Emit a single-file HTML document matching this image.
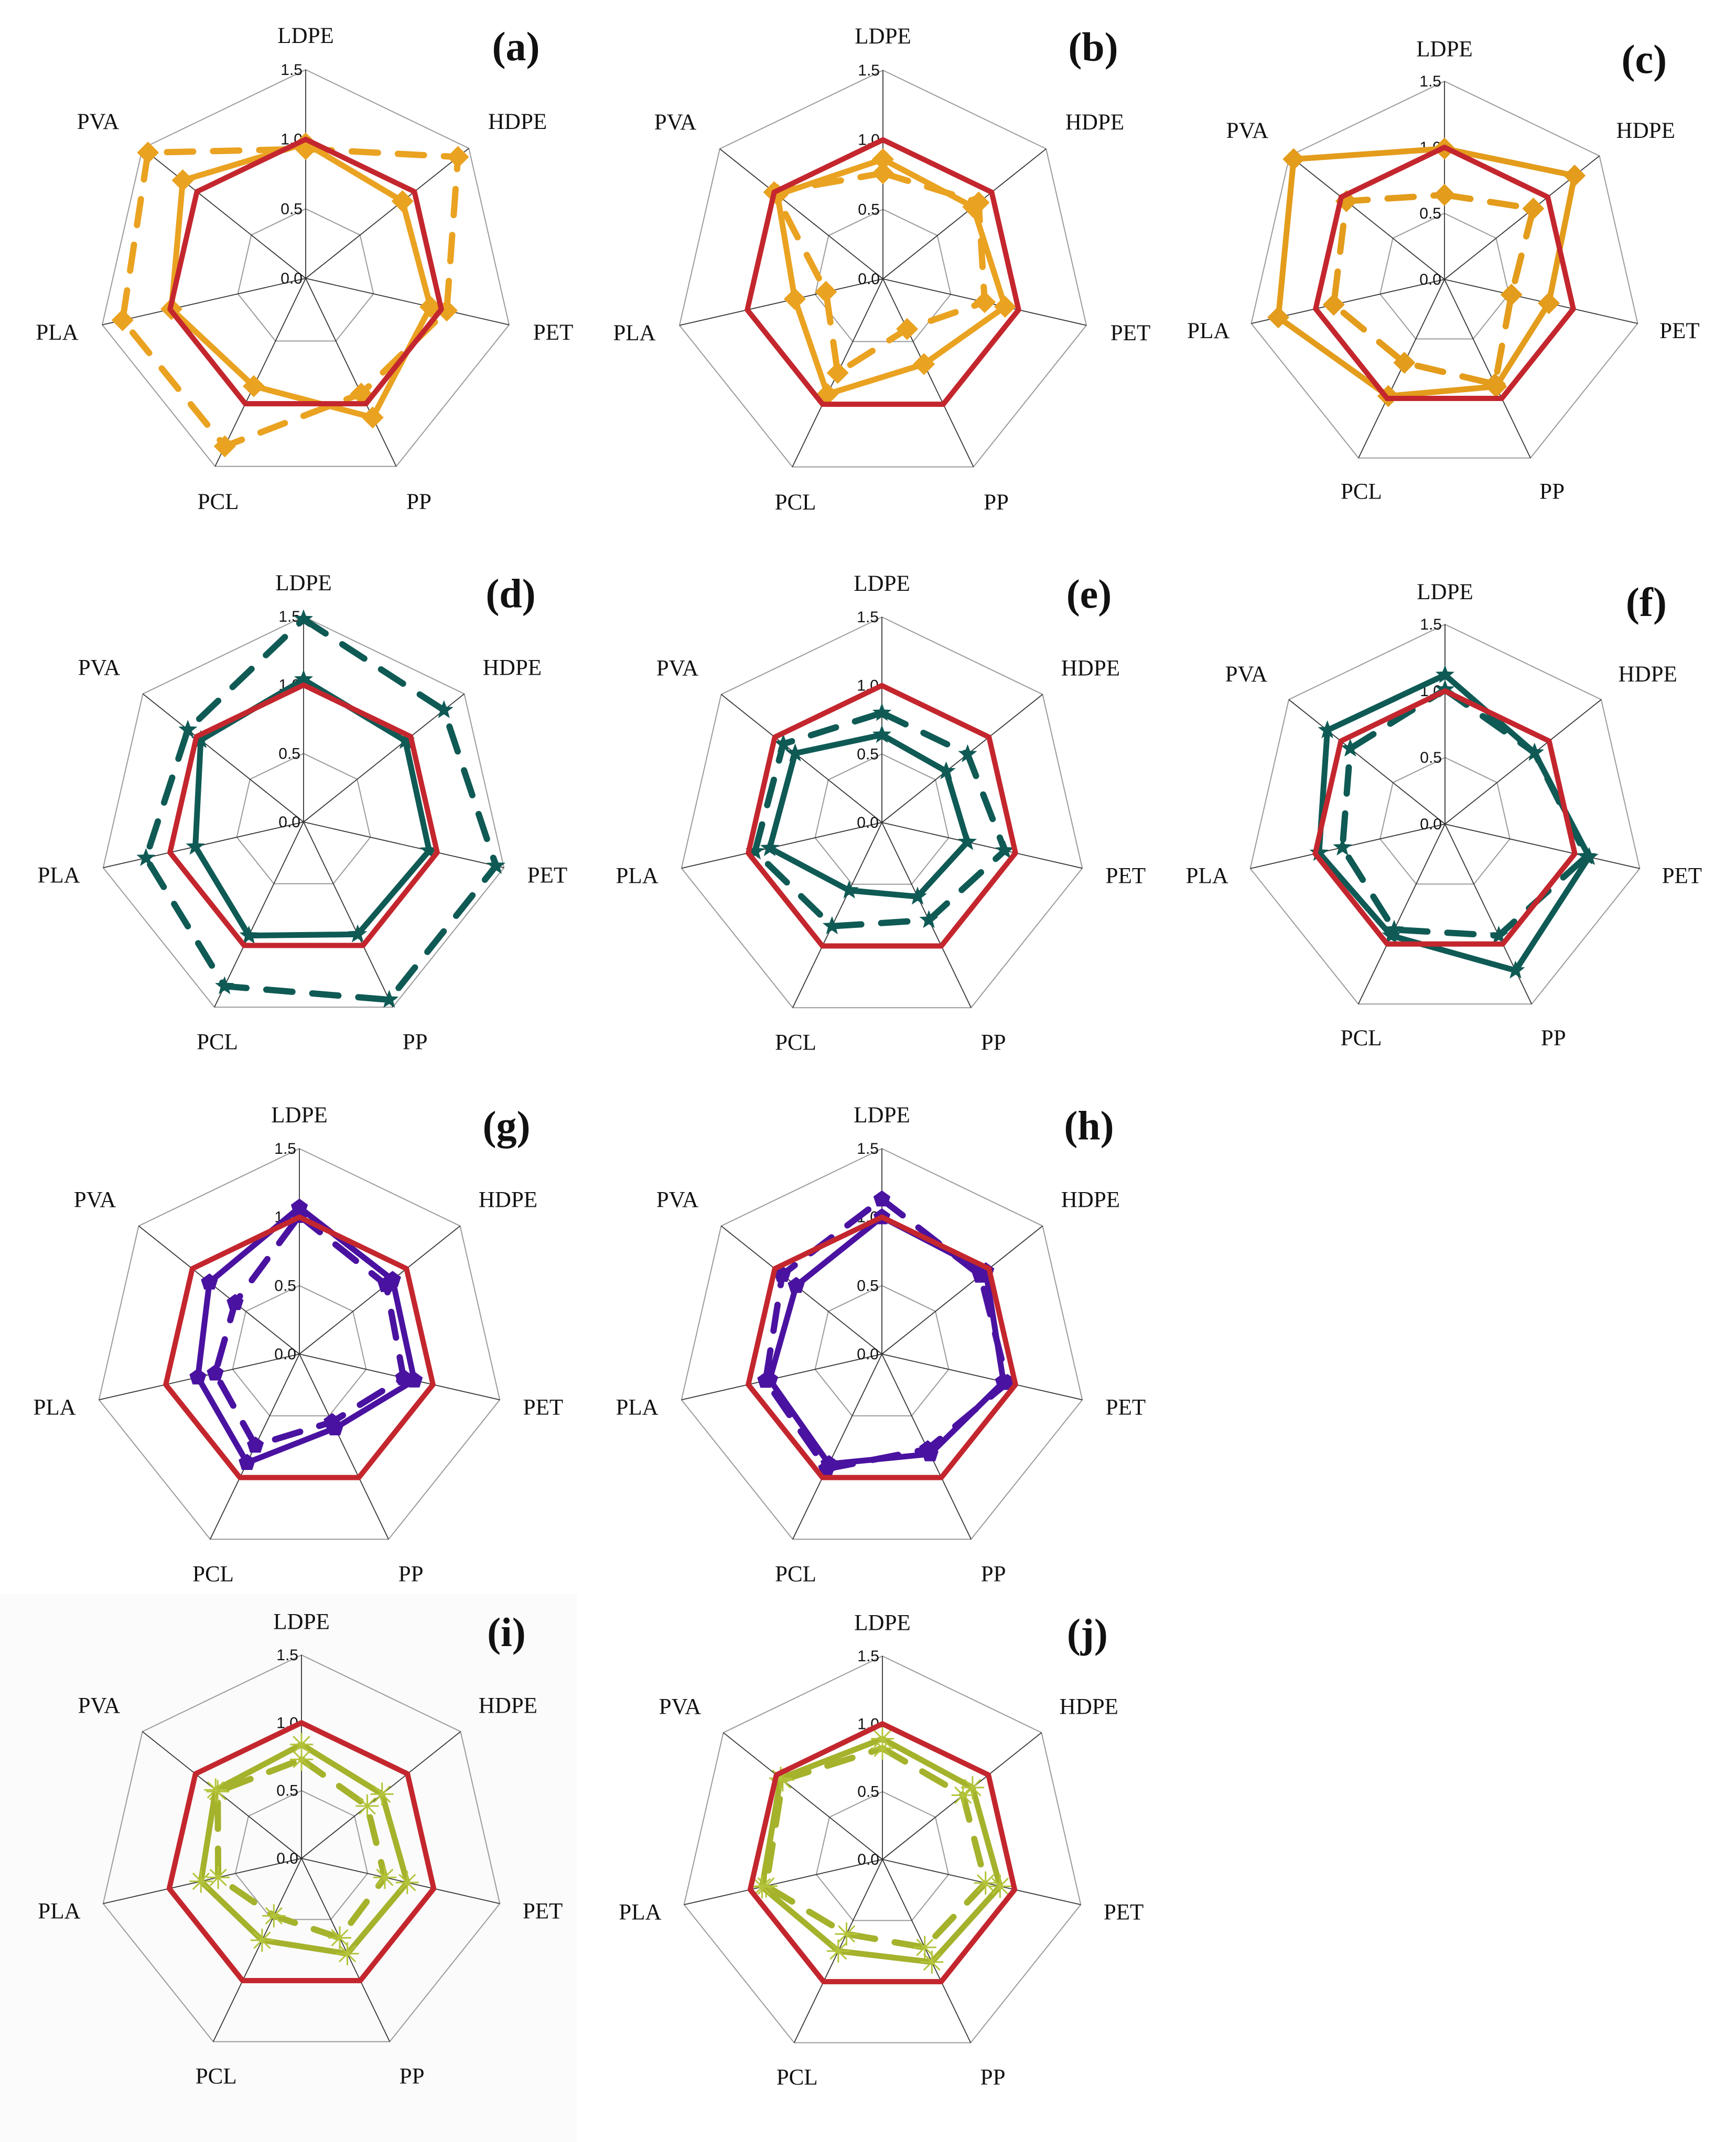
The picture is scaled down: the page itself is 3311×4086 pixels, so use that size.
<!DOCTYPE html>
<html><head><meta charset="utf-8"><style>
html,body{margin:0;padding:0;background:#fff;}
svg{display:block;}
</style></head><body>
<svg id="fig" width="3311" height="4086" viewBox="0 0 3311 4086" xmlns="http://www.w3.org/2000/svg">
<rect x="0" y="0" width="3311" height="4086" fill="#ffffff"/>
<rect x="0" y="3040" width="1100" height="1046" fill="#fbfbfb"/>
</svg>
<script>
const axes = ["LDPE","HDPE","PET","PP","PCL","PLA","PVA"];
const ticks = [0.0, 0.5, 1.0, 1.5];
const tickLabels = ["0.0","0.5","1.0","1.5"];
const reference = [1,1,1,1,1,1,1];
const aSolid  = [0.97,0.89,0.92,1.11,0.86,0.99,1.13];
const aDashed = [0.93,1.40,1.04,0.92,1.34,1.35,1.45];
const bSolid  = [0.86,0.83,0.90,0.68,0.92,0.65,0.97];
const bDashed = [0.76,0.88,0.75,0.40,0.75,0.42,1.00];
const cSolid  = [0.99,1.26,0.81,0.90,0.98,1.29,1.46];
const cDashed = [0.64,0.86,0.52,0.88,0.70,0.86,0.95];
const dSolid  = [1.04,0.95,0.94,0.91,0.92,0.81,0.96];
const dDashed = [1.48,1.31,1.44,1.44,1.33,1.18,1.08];
const eSolid  = [0.64,0.60,0.64,0.60,0.55,0.84,0.81];
const eDashed = [0.80,0.80,0.92,0.79,0.84,0.95,0.92];
const fSolid  = [1.12,0.86,1.11,1.22,0.93,0.97,1.13];
const fDashed = [1.01,0.86,1.09,0.93,0.88,0.79,0.91];
const gSolid  = [1.07,0.87,0.86,0.60,0.88,0.76,0.84];
const gDashed = [1.01,0.81,0.78,0.55,0.74,0.63,0.60];
const hSolid  = [1.00,0.97,0.91,0.81,0.89,0.84,0.80];
const hDashed = [1.13,0.92,0.94,0.77,0.93,0.87,0.93];
const iSolid  = [0.84,0.76,0.80,0.78,0.67,0.76,0.81];
const iDashed = [0.73,0.62,0.63,0.65,0.47,0.63,0.79];
const jSolid  = [0.89,0.85,0.89,0.84,0.75,0.91,0.96];
const jDashed = [0.82,0.76,0.78,0.72,0.61,0.88,0.94];

const panels = [
 {id:"a",cx:583,cy:531,R:398,color:"#eaa221",marker:"diamond",solid:aSolid,dashed:aDashed},
 {id:"b",cx:1684,cy:532,R:398,color:"#eaa221",marker:"diamond",solid:bSolid,dashed:bDashed},
 {id:"c",cx:2755,cy:533,R:378,color:"#e39c1b",marker:"diamond",solid:cSolid,dashed:cDashed},
 {id:"d",cx:579,cy:1568,R:392,color:"#0f5a55",marker:"star",solid:dSolid,dashed:dDashed},
 {id:"e",cx:1682,cy:1569,R:392,color:"#0f5a55",marker:"star",solid:eSolid,dashed:eDashed},
 {id:"f",cx:2756,cy:1572,R:381,color:"#0f5a55",marker:"star",solid:fSolid,dashed:fDashed},
 {id:"g",cx:571,cy:2583,R:392,color:"#4a12a0",marker:"pentagon",solid:gSolid,dashed:gDashed},
 {id:"h",cx:1682,cy:2583,R:392,color:"#4a12a0",marker:"pentagon",solid:hSolid,dashed:hDashed},
 {id:"i",cx:575,cy:3545,R:388,color:"#a5b22c",marker:"asterisk",solid:iSolid,dashed:iDashed},
 {id:"j",cx:1683,cy:3547,R:388,color:"#a5b22c",marker:"asterisk",solid:jSolid,dashed:jDashed}
];
const labelOff = [[0,-464],[404,-300],[472,102],[216,425],[-167,425],[-474,102],[-396,-300]];

const NS = "http://www.w3.org/2000/svg";
const svg = document.getElementById("fig");
function mk(tag, attrs, parent){
  const e = document.createElementNS(NS, tag);
  for (const k in attrs) e.setAttribute(k, attrs[k]);
  parent.appendChild(e);
  return e;
}
function angle(i){ return -Math.PI/2 + i*2*Math.PI/7; }
function pt(p, i, v){
  const r = v/1.5*p.R;
  return [p.cx + r*Math.cos(angle(i)), p.cy + r*Math.sin(angle(i))];
}
function markerShape(p, x, y, g){
  const c = p.color;
  let e;
  if (p.marker === "diamond"){
    const s = 21;
    e = mk("polygon", {points:`${x},${y-s} ${x+s},${y} ${x},${y+s} ${x-s},${y}`, fill:c}, g);
  } else if (p.marker === "star"){
    let pts = [];
    for (let k=0;k<10;k++){
      const r = k%2===0 ? 19 : 8;
      const a = -Math.PI/2 + k*Math.PI/5;
      pts.push((x+r*Math.cos(a)).toFixed(1)+","+(y+r*Math.sin(a)).toFixed(1));
    }
    e = mk("polygon", {points:pts.join(" "), fill:c}, g);
  } else if (p.marker === "pentagon"){
    let pts = [];
    for (let k=0;k<5;k++){
      const a = -Math.PI/2 + k*2*Math.PI/5;
      pts.push((x+17*Math.cos(a)).toFixed(1)+","+(y+17*Math.sin(a)).toFixed(1));
    }
    e = mk("polygon", {points:pts.join(" "), fill:c}, g);
  } else {
    let d = "";
    for (let k=0;k<4;k++){
      const a = k*Math.PI/4;
      d += `M${(x-22*Math.cos(a)).toFixed(1)},${(y-22*Math.sin(a)).toFixed(1)} L${(x+22*Math.cos(a)).toFixed(1)},${(y+22*Math.sin(a)).toFixed(1)} `;
    }
    e = mk("path", {d:d, stroke:"#b4c43a", "stroke-width":3, fill:"none"}, g);
  }
  return e;
}

panels.forEach(p => {
  const g = mk("g", {}, svg);
  
  
  // grid polygons
  [0.5, 1.0, 1.5].forEach(t => {
    const pts = axes.map((a,i)=>pt(p,i,t).map(n=>n.toFixed(1)).join(",")).join(" ");
    const poly = mk("polygon", {points:pts, fill:"none", stroke:"#9a9a9a", "stroke-width":2}, g);
    
    
  });
  // spokes
  axes.forEach((a,i) => {
    const [x,y] = pt(p,i,1.5);
    const ln = mk("line", {x1:p.cx, y1:p.cy, x2:x.toFixed(1), y2:y.toFixed(1), stroke:"#333", "stroke-width":1.8}, g);
    
    
  });
  // tick labels
  ticks.forEach((t,k) => {
    const [x,y] = pt(p,0,t);
    const tx = mk("text", {x:(x-6).toFixed(1), y:(y+10).toFixed(1), "text-anchor":"end", "font-family":"Liberation Sans, Arial, sans-serif", "font-size":30, fill:"#111"}, g);
    tx.textContent = tickLabels[k];
    
    
  });
  // axis labels
  const sc = p.R/398;
  axes.forEach((a,i) => {
    const tx = mk("text", {x:(p.cx+labelOff[i][0]*sc).toFixed(1), y:(p.cy+labelOff[i][1]*sc+15).toFixed(1), "text-anchor":"middle", "font-family":"Liberation Serif, Times New Roman, serif", "font-size":43, fill:"#111"}, g);
    tx.textContent = a;
    
    
  });
  // panel title
  const tt = mk("text", {x:(p.cx+401*sc).toFixed(1), y:(p.cy-443*sc+27).toFixed(1), "text-anchor":"middle", "font-family":"Liberation Serif, Times New Roman, serif", "font-size":78, "font-weight":"bold", fill:"#111"}, g);
  tt.textContent = "(" + p.id + ")";
  
  

  // series: dashed, solid, reference
  const series = [
    {vals:p.dashed, dash:"50 38", color:p.color, w:12, name:"dashed-series", markers:true},
    {vals:p.solid, dash:null, color:p.color, w:11, name:"solid-series", markers:true},
    {vals:reference, dash:null, color:"#c4262e", w:10, name:"reference-series", markers:false}
  ];
  series.forEach(s => {
    const pts = s.vals.map((v,i)=>pt(p,i,v).map(n=>n.toFixed(1)).join(",")).join(" ");
    const attrs = {points:pts, fill:"none", stroke:s.color, "stroke-width":s.w, "stroke-linejoin":"round", "stroke-linecap":"round"};
    if (s.dash) attrs["stroke-dasharray"] = s.dash;
    const poly = mk("polygon", attrs, g);
    
    
    if (s.markers){
      s.vals.forEach((v,i) => {
        const [x,y] = pt(p,i,v);
        const m = markerShape(p, x, y, g);
        
        
      });
    }
  });
});
</script>
</body></html>
